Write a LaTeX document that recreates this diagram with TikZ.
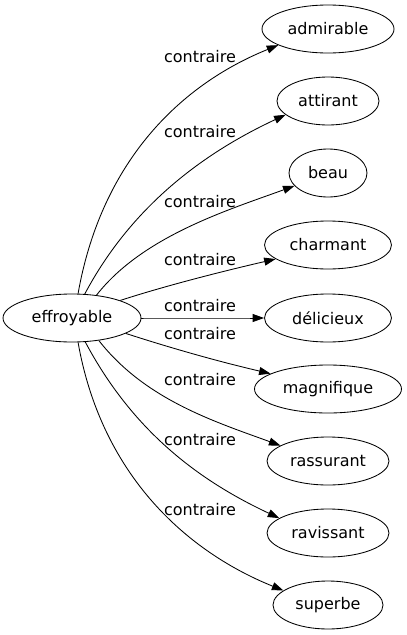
\documentclass[tikz,border=0pt]{standalone}
\usepackage{fontspec}
\setmainfont{DejaVu Sans}
\usetikzlibrary{arrows.meta,shapes.geometric}

\begin{document}
\begin{tikzpicture}[x=1pt, y=1pt]

\def\tx{328}
\def\lx{200}

\useasboundingbox (0,0) rectangle (407,-635);

\tikzset{
  wordnode/.style={
    draw,
    ellipse,
    line width=0.85pt,
    inner sep=0pt,
    font=\fontsize{16}{19}\selectfont
  },
  relarrow/.style={
    -{Triangle[length=11.5pt,width=8pt]},
    line width=0.85pt
  },
  rellabel/.style={
    inner sep=0pt,
    font=\fontsize{16}{19}\selectfont
  }
}

% ---------- wezel zrodlowy ----------
\node[wordnode, minimum width=138pt, minimum height=48pt] (effroyable) at (72,-318) {effroyable};

% ---------- wezly docelowe ----------
\foreach \n/\t/\y/\w in {
  admirable/admirable/29/132,
  attirant/attirant/101/102,
  beau/beau/173/78,
  charmant/charmant/245/127,
  delicieux/délicieux/318/127,
  magnifique/magnifique/389/147,
  rassurant/rassurant/461/122,
  ravissant/ravissant/533/122,
  superbe/superbe/605/110
} {
  \node[wordnode, minimum width=\w pt, minimum height=48pt] (\n) at (\tx,-\y) {\t};
}

% ---------- krawedzie ----------
\foreach \n/\sa/\oa/\la/\ia/\lb/\ea in {
  admirable/76/80/130/202/110/198,
  attirant/62/62/100/205/90/198,
  beau/43/52/75/200/70/201,
  charmant/20/18/50/193/50/195,
  delicieux/0/0/40/180/40/180,
  magnifique/-16/-18/50/167/50/165,
  rassurant/-40/-52/75/160/70/162,
  ravissant/-61/-62/100/155/90/163,
  superbe/-76/-80/130/158/110/162
} {
  \draw[relarrow] (effroyable.\sa) .. controls +(\oa:\la) and +(\ia:\lb) .. (\n.\ea);
}

% ---------- etykiety ----------
\foreach \y [count=\i from 1] in {57, 132, 202, 260, 306, 334, 380, 440, 510} {
  \node[rellabel] (l\i) at (\lx,-\y) {contraire};
}

\end{tikzpicture}
\end{document}
